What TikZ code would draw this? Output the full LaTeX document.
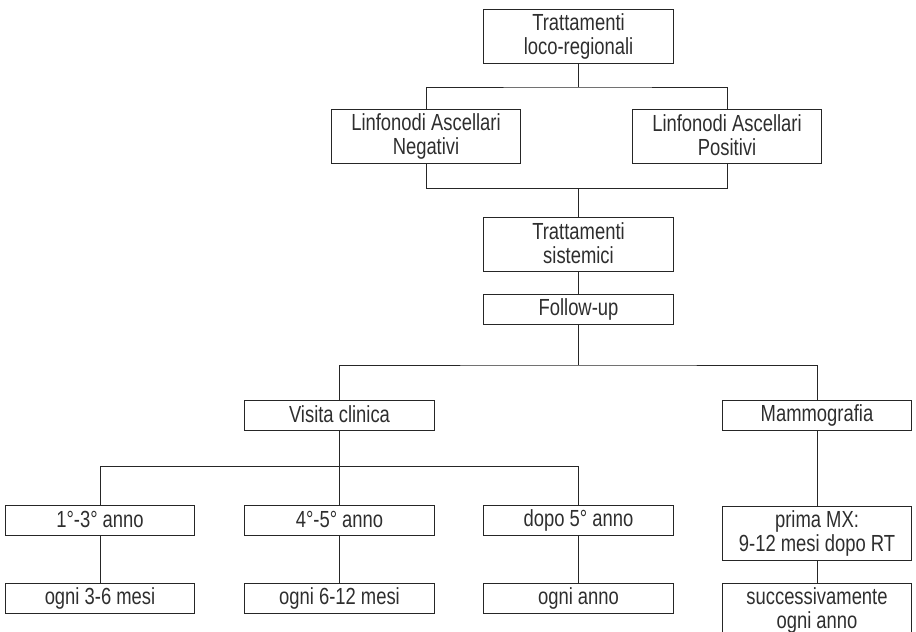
\documentclass[tikz,border=0pt]{standalone}
\usepackage{fontspec}
\setmainfont[FakeStretch=0.79]{Liberation Sans}
\definecolor{linec}{HTML}{262626}
\definecolor{textc}{HTML}{2E2E2E}
\newcommand\mystrut{\rule[-2pt]{0pt}{18.8pt}}
\begin{document}
\begin{tikzpicture}[x=1pt,y=-1pt,
  box/.style={draw=linec, line width=0.9pt, rectangle, inner sep=0pt,
    minimum width=189.5pt, align=center, text=textc,
    font=\fontsize{23.3}{24}\selectfont},
  one/.style={box, minimum height=30pt},
  two/.style={box, minimum height=54pt},
  conn/.style={draw=linec, line width=0.9pt}]
\useasboundingbox (0,0) rectangle (916,632);
\node[two] (top) at (578.5,36.3) {\mystrut Trattamenti\\\mystrut loco-regionali};
\node[two] (neg) at (426,136.3) {\mystrut Linfonodi Ascellari\\\mystrut Negativi};
\node[two] (pos) at (727,136.3) {\mystrut Linfonodi Ascellari\\\mystrut Positivi};
\node[two] (sist) at (578.5,244) {\mystrut Trattamenti\\\mystrut sistemici};
\node[one] (fu) at (578.5,309.2) {\mystrut Follow-up};
\node[one] (visita) at (339.5,415) {\mystrut Visita clinica};
\node[one] (mammo) at (817,415) {\mystrut Mammografia};
\node[one] (a13) at (100,520.5) {\mystrut 1°-3° anno};
\node[one] (a45) at (339.5,520.5) {\mystrut 4°-5° anno};
\node[one] (dopo) at (578.5,520.5) {\mystrut dopo 5° anno};
\node[two] (prima) at (817,533) {\mystrut prima MX:\\\mystrut 9-12 mesi dopo RT};
\node[one] (o36) at (100,598.3) {\mystrut ogni 3-6 mesi};
\node[one] (o612) at (339.5,598.3) {\mystrut ogni 6-12 mesi};
\node[one] (oanno) at (578.5,598.3) {\mystrut ogni anno};
\node[two] (succ) at (817,610.3) {\mystrut successivamente\\\mystrut ogni anno};
\coordinate (j1) at (578.5,87);
\coordinate (j2) at (578.5,188.5);
\coordinate (j3) at (578.5,365);
\coordinate (j4) at (339.5,466.7);
\draw[conn] (top.south) -- (j1);
\draw[conn] (neg.north) |- (j1) -| (pos.north);
\draw[conn] (neg.south) |- (j2) -| (pos.south);
\draw[conn] (j2) -- (sist.north);
\draw[conn] (sist.south) -- (fu.north);
\draw[conn] (fu.south) -- (j3);
\draw[conn] (visita.north) |- (j3) -| (mammo.north);
\draw[conn] (visita.south) -- (j4);
\draw[conn] (a13.north) |- (j4) -| (dopo.north);
\draw[conn] (j4) -- (a45.north);
\draw[conn] (a13.south) -- (o36.north);
\draw[conn] (a45.south) -- (o612.north);
\draw[conn] (dopo.south) -- (oanno.north);
\draw[conn] (mammo.south) -- (prima.north);
\draw[conn] (prima.south) -- (succ.north);
\end{tikzpicture}
\end{document}
